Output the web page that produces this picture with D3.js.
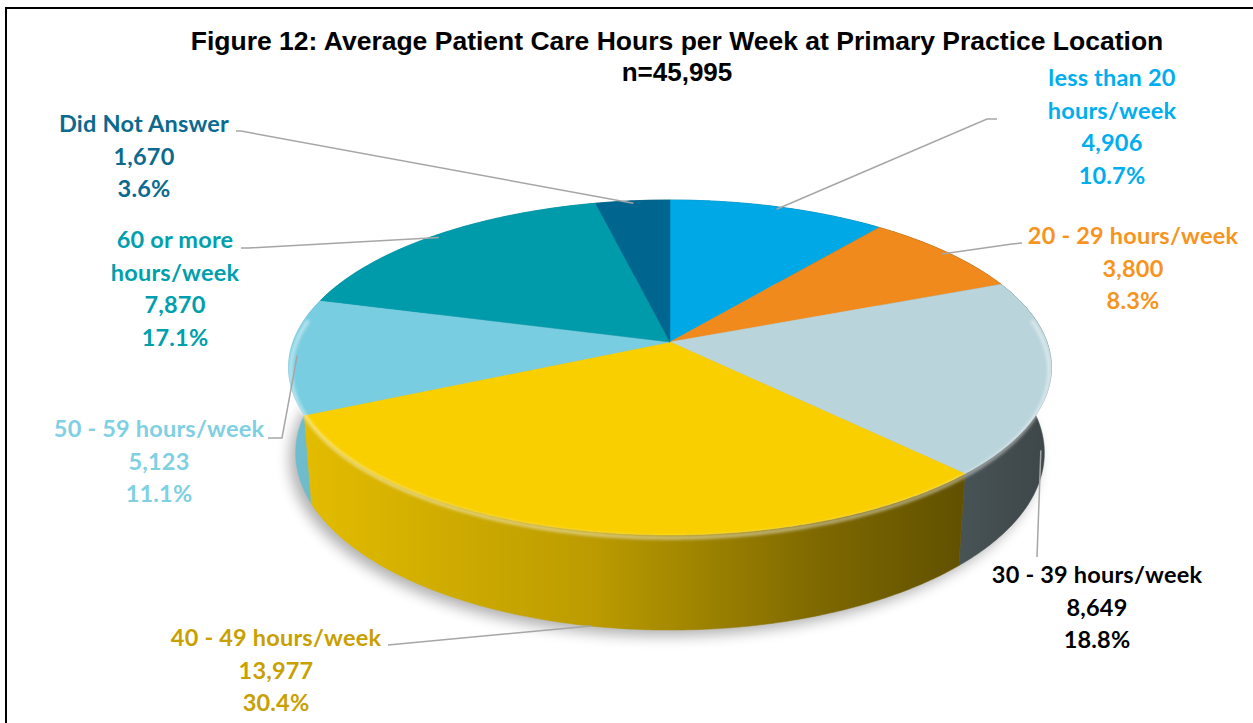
<!DOCTYPE html>
<html>
<head>
<meta charset="utf-8">
<script src="https://cdn.jsdelivr.net/npm/d3@7"></script>
<style>
  body { margin: 0; background: #fff; }
  svg { display: block; }
</style>
</head>
<body>
<script>
// data
const categories = [
  ["less than 20", "hours/week"],
  ["20 - 29 hours/week"],
  ["30 - 39 hours/week"],
  ["40 - 49 hours/week"],
  ["50 - 59 hours/week"],
  ["60 or more", "hours/week"],
  ["Did Not Answer"]
];
const counts = [4906, 3800, 8649, 13977, 5123, 7870, 1670];

// styles
const topColors = ["#00a9e6", "#f08a1c", "#b9d4db", "#f9cf00", "#79cde0", "#009bab", "#006690"];
const textColors = ["#00aeef", "#f7941d", "#000000", "#c8a000", "#7fd0e2", "#009fae", "#0b6a8f"];

// label layout: centre x, first baseline, leader end near the label
const labelPos = [
  {x: 1112, y: 86,  lead: [[997, 119], [987, 119]], r: 0.98, h: 0},
  {x: 1133, y: 244, lead: [[1022, 243], [1012, 244]], r: 0.98, h: 0},
  {x: 1097, y: 583, lead: [[1037, 557]], r: 0.99, h: 0.85},
  {x: 276,  y: 646, lead: [[388, 645]], r: 1, h: 1},
  {x: 159,  y: 437, lead: [[268, 438], [282, 438]], r: 0.98, h: 0},
  {x: 175,  y: 248, lead: [[241, 248], [249, 248]], r: 0.98, h: 0},
  {x: 144,  y: 132, lead: [[236, 131], [241, 131]], r: 0.98, h: 0}
];

const width = 1253, height = 723;
const total = d3.sum(counts);

const svg = d3.select("body").append("svg")
  .attr("width", width)
  .attr("height", height);

const defs = svg.append("defs");
defs.append("filter").attr("id", "shadow")
  .attr("x", "-20%").attr("y", "-20%").attr("width", "140%").attr("height", "140%")
  .append("feGaussianBlur").attr("stdDeviation", 7);
defs.append("filter").attr("id", "soft")
  .append("feGaussianBlur").attr("stdDeviation", 1.5);

// frame
svg.append("path")
  .attr("d", `M6,${height} V8 H${width}`)
  .attr("fill", "none")
  .attr("stroke", "#000")
  .attr("stroke-width", 2);

// title
svg.append("text")
  .attr("x", 677).attr("y", 50)
  .attr("text-anchor", "middle")
  .style("font-family", "'Liberation Sans', Arial, sans-serif")
  .style("font-weight", "bold")
  .style("font-size", "26.5px")
  .text("Figure 12: Average Patient Care Hours per Week at Primary Practice Location");
svg.append("text")
  .attr("x", 677).attr("y", 81)
  .attr("text-anchor", "middle")
  .style("font-family", "'Liberation Sans', Arial, sans-serif")
  .style("font-weight", "bold")
  .style("font-size", "26px")
  .text("n=" + d3.format(",")(total));

// perspective projection of a tilted disc
const cx = 670, cy = 342, f = 2232, D = 5.92;
const sinT = 0.434, cosT = 0.901, depth = 0.253;
function proj(phi, r, y) {
  const X = r * Math.sin(phi), Z = -r * Math.cos(phi);
  const d = D - Z * cosT - y * sinT;
  return [cx + f * X / d, cy + f * (Z * sinT - y * cosT) / d];
}
function ring(a0, a1, r, y) {
  const n = Math.max(2, Math.ceil((a1 - a0) / 0.01));
  return d3.range(n + 1).map(i => proj(a0 + (a1 - a0) * i / n, r, y));
}

const pie = d3.pie().sort(null).value(d => d);
const arcs = pie(counts);
const line = d3.line();

// shadow below the pie
svg.append("path")
  .attr("d", line(ring(0, 2 * Math.PI, 1.0, -depth)) + "Z")
  .attr("transform", "translate(-6,6)")
  .attr("fill", "#000")
  .attr("opacity", 0.3)
  .attr("filter", "url(#shadow)");

// wall gradients
const wallStops = [[0, 0.92], [0.4, 0.75], [0.7, 0.5], [0.9, 0.38], [1, 0.33]];
arcs.forEach((a, i) => {
  const g = defs.append("linearGradient")
    .attr("id", `wall-${i}`)
    .attr("gradientUnits", "userSpaceOnUse")
    .attr("x1", 290).attr("x2", 1050).attr("y1", 0).attr("y2", 0);
  const c = d3.rgb(topColors[i]);
  wallStops.forEach(([o, m]) => {
    g.append("stop").attr("offset", o)
      .attr("stop-color", d3.rgb(c.r * m, c.g * m, c.b * m).formatHex());
  });
});

// outer walls, far ones first
const walls = arcs.map((a, i) => ({a, i}))
  .sort((p, q) => Math.cos((q.a.startAngle + q.a.endAngle) / 2) - Math.cos((p.a.startAngle + p.a.endAngle) / 2));

svg.append("g").selectAll("path")
  .data(walls)
  .join("path")
  .attr("d", w => {
    const top = ring(w.a.startAngle, w.a.endAngle, 1, 0);
    const bot = ring(w.a.startAngle, w.a.endAngle, 1, -depth).reverse();
    return line(top.concat(bot)) + "Z";
  })
  .attr("fill", w => `url(#wall-${w.i})`)
  .attr("stroke", w => `url(#wall-${w.i})`)
  .attr("stroke-width", 0.5);

// top faces
svg.append("g").selectAll("path")
  .data(arcs)
  .join("path")
  .attr("d", a => line([proj(0, 0, 0)].concat(ring(a.startAngle, a.endAngle, 1, 0))) + "Z")
  .attr("fill", (a, i) => topColors[i])
  .attr("stroke", (a, i) => topColors[i])
  .attr("stroke-width", 0.5);

// bevel highlight on the front rim
svg.append("path")
  .attr("d", line(ring(Math.PI * 0.45, Math.PI * 1.55, 0.995, -0.01)))
  .attr("fill", "none")
  .attr("stroke", "#fff")
  .attr("stroke-opacity", 0.45)
  .attr("stroke-width", 4)
  .attr("filter", "url(#soft)");

// leader lines
svg.append("g").selectAll("path")
  .data(arcs)
  .join("path")
  .attr("d", (a, i) => {
    const p = labelPos[i];
    const mid = (a.startAngle + a.endAngle) / 2;
    return line(p.lead.concat([proj(mid, p.r, -depth * p.h)]));
  })
  .attr("fill", "none")
  .attr("stroke", "#a6a6a6")
  .attr("stroke-width", 1.5);

// labels
const fmtN = d3.format(",");
const fmtP = d3.format(".1%");
const labels = svg.append("g").selectAll("text")
  .data(arcs)
  .join("text")
  .attr("text-anchor", "middle")
  .attr("fill", (a, i) => textColors[i])
  .style("font-family", "Lato, 'Open Sans', sans-serif")
  .style("font-weight", "bold")
  .style("font-size", "23.5px")
  .style("letter-spacing", "0.2px");

labels.each(function (a, i) {
  const lines = categories[i].concat([fmtN(a.data), fmtP(a.data / total)]);
  d3.select(this).selectAll("tspan")
    .data(lines)
    .join("tspan")
    .attr("x", labelPos[i].x)
    .attr("y", (d, k) => labelPos[i].y + k * 32.5)
    .text(d => d);
});
</script>
</body>
</html>
